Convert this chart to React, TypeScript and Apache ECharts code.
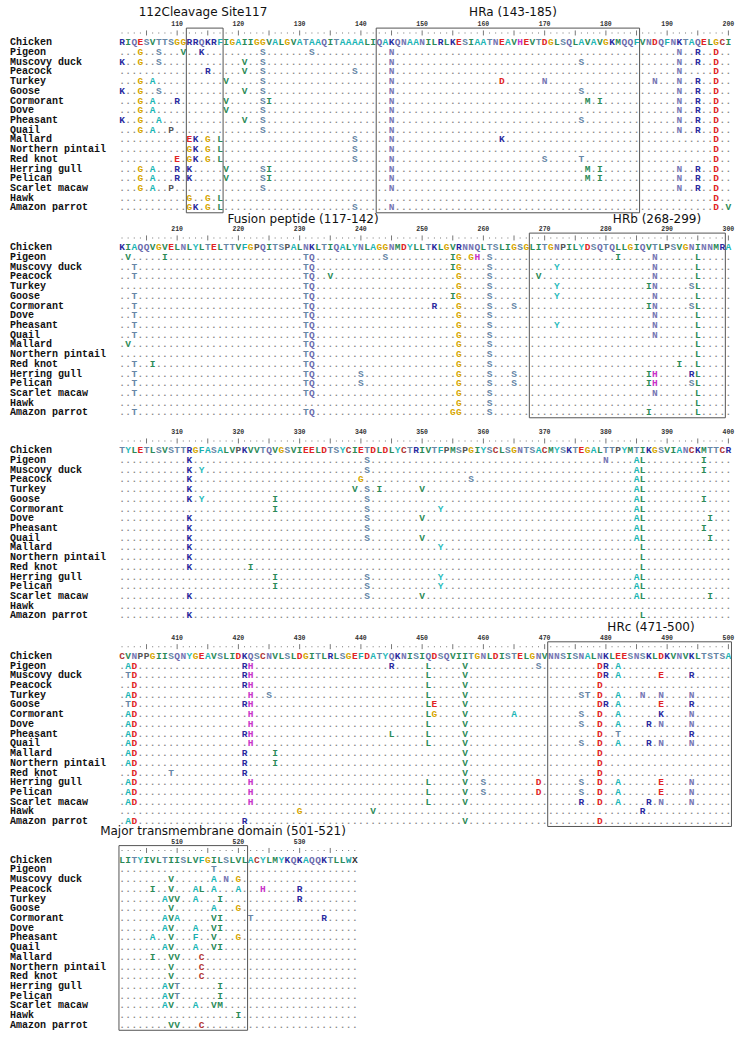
import React, { useEffect, useRef } from 'react';
import * as echarts from 'echarts';

const SPECIES = [
  'Chicken', 'Pigeon', 'Muscovy duck', 'Peacock', 'Turkey', 'Goose', 'Cormorant', 'Dove',
  'Pheasant', 'Quail', 'Mallard', 'Northern pintail', 'Red knot', 'Herring gull', 'Pelican',
  'Scarlet macaw', 'Hawk', 'Amazon parrot',
];

const BLOCK_STARTS = [101, 201, 301, 401, 501];
const BLOCK_ENDS = [200, 300, 400, 500, 539];

const CHICKEN_BLOCKS = [
  'RIQESVTTSGGRRQKRFIGAIIGGVALGVATAAQITAAAALIQAKQNAANILRLKESIAATNEAVHEVTDGLSQLAVAVGKMQQFVNDQFNKTAQELGCI',
  'KIAQQVGVELNLYLTELTTVFGPQITSPALNKLTIQALYNLAGGNMDYLLTKLGVRNNQLTSLIGSGLITGNPILYDSQTQLLGIQVTLPSVGNINNMRA',
  'TYLETLSVSTTRGFASALVPKVVTQVGSVIEELDTSYCIETDLDLYCTRIVTFPMSPGIYSCLSGNTSACMYSKTEGALTTPYMTIKGSVIANCKMTTCR',
  'CVNPPGIISQNYGEAVSLIDKQSCNVLSLDGITLRLSGEFDATYQKNISIQDSQVIITGNLDISTELGNVNNSISNALNKLEESNSKLDKVNVKLTSTSA',
  'LITYIVLTIISLVFGILSLVLACYLMYKQKAQQKTLLWX',
];

// substitutions relative to Chicken ("position+residue"); other positions are identical (dots)
const SUBSTITUTIONS = [
  '',
  '104G 107S 111V 114K 124S 132S 145N 192N 195R 198D 202V 208I 231T 232Q 244S 255I 256G 258G 259H 261S 282I 288N 295L 312K 341S 380N 385A 386L 396I 402A 403D 421R 422H 445R 451L 457V 469S 479D 480R 482A 516T',
  '101K 104G 107S 121V 124S 145N 176S 192N 195R 198D 203T 231T 232Q 255I 256G 261S 272Y 288N 295L 312K 314Y 341S 385A 386L 396I 402T 403D 421R 422H 451L 457V 479D 480R 482A 489E 494R 509V 516A 518N 520G',
  '115R 121V 124S 139S 145N 192N 198D 203T 231T 232Q 235V 256G 261S 269V 288N 295L 312K 340G 358S 385A 386L 403D 421R 422H 451L 457V 479D 506I 509V 513A 514L 516A 520A 524H 530R',
  '104G 106A 118V 124S 145N 163D 170N 188N 192N 195R 198D 231T 232Q 256G 261S 272Y 287I 288N 294S 295L 312K 339V 341S 343I 350V 385A 386L 402A 403D 422H 425S 451L 457V 476S 477T 479D 482A 486N 489N 494N 508A 509V 510V 513A 517I 530R',
  '101K 104G 107S 121V 124S 145N 176S 192N 195R 198D 203T 231T 232Q 255I 256G 261S 272Y 288N 295L 312K 314Y 326I 341S 385A 386L 396I 402T 403D 421R 422H 451L 452E 457V 479D 480R 482A 489E 494R 509V 516A 520G',
  '104G 106A 110R 118V 124S 125I 145N 177M 179I 192N 195R 198D 203T 231T 232Q 252R 256G 261S 265S 287I 288N 294S 295L 326I 341S 353Y 385A 386L 402A 403D 422H 451L 452G 457V 465A 476S 479D 482A 489K 494N 508A 509V 510A 516V 517I 522T 534R',
  '104G 106A 118V 124S 145N 192N 195R 198D 203T 231T 232Q 256G 261S 288N 295L 312K 341S 350V 385A 386L 397I 402A 403D 422H 451L 457V 476S 479D 482A 487R 489N 494N 508A 509V 513A 516V 517I',
  '101K 104G 107A 121V 124S 145N 176S 192N 195R 198D 203T 231T 232Q 256G 261S 272Y 288N 295L 312K 341S 385A 386L 396I 402A 403D 421R 422H 445L 451L 457V 479D 482T 494R 506A 509V 513F 516V 520G',
  '104G 106A 109P 124S 145N 192N 195R 198D 203T 231T 232Q 256G 261S 288N 295L 312K 341S 350V 385A 386L 397I 402A 403D 422H 451L 457V 476S 479D 482A 487R 489N 494N 508A 509V 513A 516V 517I',
  '112E 113K 115G 117L 139S 145N 163K 198D 202V 231T 232Q 256G 261S 295L 312K 353Y 386L 402A 403D 421R 426I 457V 479D 506I 509V 510V 514C',
  '112G 113K 115G 117L 139S 145N 198D 231T 232Q 256G 261S 295L 312K 386L 402A 403D 421R 426I 457V 479D 509V 514C',
  '110E 112G 113K 115G 117L 139S 145N 170S 176T 198D 203T 206I 231T 232Q 256G 261S 292I 295L 312K 322I 386L 403D 409T 421R 457V 479D 509V 514C',
  '104G 106A 110R 112K 118V 124S 125I 145N 177M 179I 192N 195R 198D 203T 231T 232Q 240S 256G 261S 265S 287I 288H 294R 295L 326I 341S 353Y 385A 386L 402A 403D 422H 451L 457V 460S 469D 476S 479D 482A 489E 494N 508A 509V 510T 517I',
  '104G 106A 110R 112K 118V 124S 125I 145N 177M 179I 192N 195R 198D 203T 231T 232Q 240S 256G 261S 265S 287I 288H 294S 295L 326I 341S 353Y 385A 386L 402A 403D 422H 451L 457V 460S 469D 476S 479D 482A 489E 494N 508A 509V 510T 517I',
  '104G 106A 109P 124S 145N 192N 195R 198D 203T 231T 232Q 256G 261S 288N 295L 312K 341S 350V 385A 386L 397I 402A 403D 422H 451L 457V 476R 479D 482A 487R 489N 494N 508A 509V 513A 516V 517M',
  '112G 115G 117L 198D 256G 261S 295L 430G 442V 486R 520I',
  '112G 113K 115G 117L 139S 145N 198D 200V 203T 231T 232Q 255G 256G 261S 287I 295L 312K 386L 402A 403D 421R 457V 479D 509V 510V 514C',
];

const DOMAIN_BLOCKS = [0, 0, 1, 3, 4];
const DOMAIN_STARTS = [112, 143, 268, 471, 501];
const DOMAIN_ENDS = [117, 185, 299, 500, 521];

const ANNOTATIONS = [
  '112Cleavage Site117',
  'HRa (143-185)',
  'Fusion peptide (117-142)',
  'HRb (268-299)',
  'HRc (471-500)',
  'Major transmembrane domain (501-521)',
];

const RESIDUE_COLORS: Record<string, string> = {
  A: '#1cb6b6', V: '#2b8a57', I: '#2b8a57', L: '#2b8a57', M: '#2b8a57',
  F: '#1caeae', Y: '#2cbcbc', W: '#1ca0a0', C: '#b03535', G: '#d6a600',
  P: '#555555', S: '#6686a6', T: '#6686a6', N: '#7676b4', Q: '#6a6aac',
  K: '#2a2a9e', R: '#2a2a9e', D: '#e02424', E: '#e02424', H: '#c833c8', X: '#333333',
};

const COL_W = 6.125;
const ROW_H = 9.72;
const GRID_LEFT = 115.9;
const GRID_TOPS = [28.1, 233.1, 436.1, 641.8, 845.6];
const ANNOT_POS = [[203, 12], [513, 12], [303, 218.5], [657, 218.5], [651, 627], [223, 831]];

type Cell = { kind: 'res' | 'dot' | 'tick' | 'rdot'; ch: string; color: string };

function parseSubs(s: string): Record<number, string> {
  const m: Record<number, string> = {};
  s.split(/\s+/).filter(Boolean).forEach((tok) => {
    const pos = parseInt(tok.slice(0, -1), 10);
    m[pos] = tok.slice(-1);
  });
  return m;
}

function buildOption() {
  const subMaps = SUBSTITUTIONS.map(parseSubs);
  const grids: any[] = [];
  const xAxes: any[] = [];
  const yAxes: any[] = [];
  const series: any[] = [];

  BLOCK_STARTS.forEach((start, b) => {
    const end = BLOCK_ENDS[b];
    const full = b < 4;
    const axMax = full ? start + 99 : start + 39;
    const nCols = axMax - (start - 1);
    grids.push({
      left: GRID_LEFT,
      top: GRID_TOPS[b],
      width: nCols * COL_W,
      height: ROW_H * (SPECIES.length + 1),
      containLabel: false,
    });
    xAxes.push({
      type: 'value',
      gridIndex: b,
      position: 'top',
      min: start - 1,
      max: axMax,
      interval: 10,
      axisLine: { show: false },
      axisTick: { show: false },
      splitLine: { show: false },
      axisLabel: {
        show: true,
        margin: 0,
        fontSize: 6.5,
        fontWeight: 'bold',
        fontFamily: 'Liberation Mono',
        color: '#333',
        showMinLabel: false,
        showMaxLabel: full,
      },
    });
    yAxes.push({
      type: 'category',
      gridIndex: b,
      inverse: true,
      data: [''].concat(SPECIES),
      axisLine: { show: false },
      axisTick: { show: false },
      splitLine: { show: false },
      axisLabel: {
        interval: 0,
        align: 'left',
        margin: GRID_LEFT - 10,
        fontFamily: 'Liberation Mono',
        fontWeight: 'bold',
        fontSize: 10,
        color: '#111',
      },
    });

    const cells: Cell[] = [];
    const data: number[][] = [];
    for (let col = start; col <= end; col++) {
      cells.push({ kind: col % 5 === 0 ? 'tick' : 'rdot', ch: '', color: '#666' });
      data.push([col, 0]);
    }
    const chickenSeq = CHICKEN_BLOCKS[b];
    SPECIES.forEach((_, s) => {
      for (let col = start; col <= end; col++) {
        let ch = chickenSeq[col - start];
        if (s > 0) ch = subMaps[s][col] || '.';
        if (ch === '.') cells.push({ kind: 'dot', ch: '.', color: '#8a8a8a' });
        else cells.push({ kind: 'res', ch, color: RESIDUE_COLORS[ch] || '#333' });
        data.push([col, s + 1]);
      }
    });

    series.push({
      type: 'custom',
      xAxisIndex: b,
      yAxisIndex: b,
      coordinateSystem: 'cartesian2d',
      data,
      silent: true,
      renderItem: (params: any, api: any) => {
        const c = cells[params.dataIndex];
        const p = api.coord([api.value(0), api.value(1)]);
        if (c.kind === 'tick') {
          return {
            type: 'line',
            shape: { x1: p[0], y1: p[1] - 2.5, x2: p[0], y2: p[1] + 2.5 },
            style: { stroke: '#555', lineWidth: 0.8 },
          };
        }
        if (c.kind === 'rdot') {
          return {
            type: 'rect',
            shape: { x: p[0] - 0.5, y: p[1] - 0.5, width: 1, height: 1 },
            style: { fill: '#777' },
          };
        }
        return {
          type: 'text',
          x: p[0],
          y: p[1],
          style: {
            text: c.ch,
            fill: c.color,
            font: 'bold 9.5px "Liberation Mono"',
            align: 'center',
            verticalAlign: 'middle',
            textAlign: 'center',
            textVerticalAlign: 'middle',
          },
        };
      },
    });

    const boxData: number[][] = [];
    DOMAIN_BLOCKS.forEach((db, i) => {
      if (db === b) boxData.push([DOMAIN_STARTS[i], DOMAIN_ENDS[i]]);
    });
    if (boxData.length) {
      series.push({
        type: 'custom',
        xAxisIndex: b,
        yAxisIndex: b,
        coordinateSystem: 'cartesian2d',
        data: boxData,
        silent: true,
        z: 5,
        renderItem: (params: any, api: any) => {
          const cs = params.coordSys;
          const x1 = api.coord([api.value(0) - 0.5, 0])[0];
          const x2 = api.coord([api.value(1) + 0.5, 0])[0];
          return {
            type: 'rect',
            shape: { x: x1, y: cs.y, width: x2 - x1, height: cs.height },
            style: { fill: 'none', stroke: '#555', lineWidth: 1 },
          };
        },
      });
    }
  });

  const graphic = ANNOTATIONS.map((t, i) => ({
    type: 'text',
    x: ANNOT_POS[i][0],
    y: ANNOT_POS[i][1],
    style: {
      text: t,
      font: '12px "DejaVu Sans"',
      fill: '#111',
      align: 'center',
      verticalAlign: 'middle',
      textAlign: 'center',
      textVerticalAlign: 'middle',
    },
  }));

  return {
    animation: false,
    backgroundColor: '#ffffff',
    grid: grids,
    xAxis: xAxes,
    yAxis: yAxes,
    series,
    graphic,
  };
}

export default function App() {
  const ref = useRef<HTMLDivElement>(null);
  useEffect(() => {
    if (!ref.current) return;
    const chart = echarts.init(ref.current, undefined, { renderer: 'svg' });
    chart.setOption(buildOption() as any);
    return () => chart.dispose();
  }, []);
  return (
    <div
      ref={ref}
      style={{ position: 'absolute', left: 0, top: 0, width: 750, height: 1046, background: '#fff' }}
    />
  );
}
